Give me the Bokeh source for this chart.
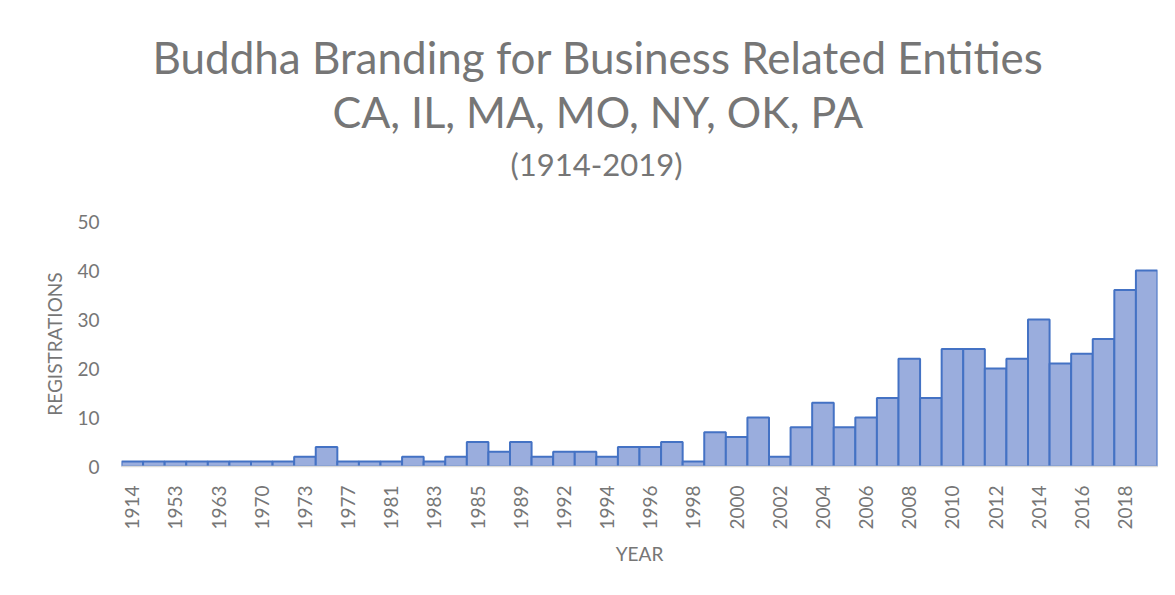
import math
from bokeh.plotting import figure
from bokeh.models import Range1d, FactorRange, Title, CustomJSTickFormatter
from bokeh.embed import file_html
from bokeh.resources import INLINE

years = ["1914", "1952", "1953", "1962", "1963", "1969", "1970", "1971",
         "1973", "1974", "1977", "1978", "1981", "1982", "1983", "1984",
         "1985", "1988", "1989", "1991", "1992", "1993", "1994", "1995",
         "1996", "1997", "1998", "1999", "2000", "2001", "2002", "2003",
         "2004", "2005", "2006", "2007", "2008", "2009", "2010", "2011",
         "2012", "2013", "2014", "2015", "2016", "2017", "2018", "2019"]
registrations = [1, 1, 1, 1, 1, 1, 1, 1,
                 2, 4, 1, 1, 1, 2, 1, 2,
                 5, 3, 5, 2, 3, 3, 2, 4,
                 4, 5, 1, 7, 6, 10, 2, 8,
                 13, 8, 10, 14, 22, 14, 24, 24,
                 20, 22, 30, 21, 23, 26, 36, 40]
title_lines = ["Buddha Branding for Business Related Entities",
               "CA, IL, MA, MO, NY, OK, PA",
               "(1914-2019)"]
y_ticks = [0, 10, 20, 30, 40, 50]

FONT = "Lato"
GRAY = "#767676"

p = figure(width=1167, height=587, output_backend="svg", toolbar_location=None,
           x_range=FactorRange(*years, range_padding=0), y_range=Range1d(0, 50),
           min_border_left=121, min_border_right=10, min_border_top=221,
           min_border_bottom=121)

p.vbar(x=years, top=registrations, width=1.0, fill_color="#9aaddd",
       line_color="#4472c4", line_width=2)

p.grid.visible = False
p.outline_line_color = None

# x axis
xa = p.xaxis[0]
xa.axis_line_color = "#d9d9d9"
xa.axis_line_width = 1.5
xa.major_tick_line_color = None
xa.minor_tick_line_color = None
xa.major_label_orientation = math.pi / 2
xa.major_label_standoff = 13
xa.major_label_text_font = FONT
xa.major_label_text_font_size = "19px"
xa.major_label_text_color = GRAY
xa.formatter = CustomJSTickFormatter(code="return (index % 2 == 1) ? '' : tick;")
xa.axis_label = "YEAR"
xa.axis_label_text_font = FONT
xa.axis_label_text_font_size = "19px"
xa.axis_label_text_font_style = "normal"
xa.axis_label_text_color = GRAY
xa.axis_label_standoff = 9

# y axis
ya = p.yaxis[0]
ya.ticker = y_ticks
ya.axis_line_color = None
ya.major_tick_line_color = None
ya.minor_tick_line_color = None
ya.major_label_standoff = 16
ya.major_label_text_font = FONT
ya.major_label_text_font_size = "19px"
ya.major_label_text_color = GRAY
ya.axis_label = "REGISTRATIONS"
ya.axis_label_text_font = FONT
ya.axis_label_text_font_size = "19px"
ya.axis_label_text_font_style = "normal"
ya.axis_label_text_color = GRAY
ya.axis_label_standoff = 8

# title lines: p.title is the outermost; added titles stack outward from the frame
p.title.text = title_lines[0]
p.title.align = "left"
p.title.offset = 31
p.title.text_font = FONT
p.title.text_font_size = "44px"
p.title.text_font_style = "normal"
p.title.text_color = GRAY
p.title.standoff = 0

# spacer between frame and the subtitle lines
p.add_layout(Title(text=" ", text_font=FONT, text_font_size="26px", standoff=0), "above")
p.add_layout(Title(text=title_lines[2], align="left", offset=389, text_font=FONT,
                   text_font_size="31px", text_font_style="normal",
                   text_color=GRAY, standoff=9), "above")
p.add_layout(Title(text=title_lines[1], align="left", offset=211, text_font=FONT,
                   text_font_size="43px", text_font_style="normal",
                   text_color=GRAY, standoff=3), "above")

open("out.html", "w").write(file_html(p, INLINE))
